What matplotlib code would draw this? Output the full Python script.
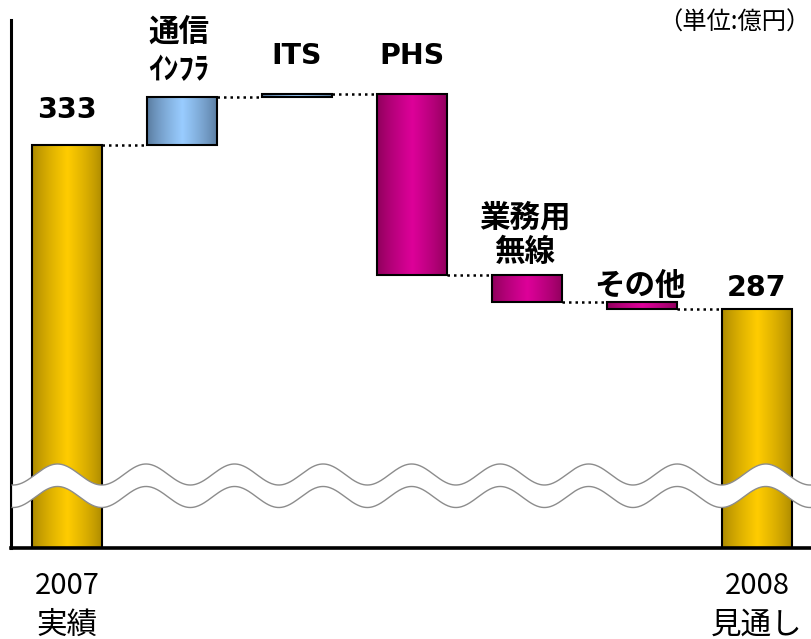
import numpy as np
import matplotlib
matplotlib.use("Agg")
import matplotlib.pyplot as plt
from matplotlib.colors import LinearSegmentedColormap

# ---- data (億円) ----
start_label = "2007\n実績"
end_label = "2008\n見通し"
start_value = 333
end_value = 287
step_labels = ["通信\nｲﾝﾌﾗ", "ITS", "PHS", "業務用\n無線", "その他"]
step_values = [13.5, 0.8, -50.8, -7.5, -2.0]
unit_label = "（単位:億円）"

# ---- styling ----
CJK = ["Noto Sans CJK JP", "DejaVu Sans"]
LATIN = ["DejaVu Sans"]
gold = LinearSegmentedColormap.from_list("gold", ["#a88600", "#ffcc00"])
blue = LinearSegmentedColormap.from_list("blue", ["#56779a", "#99ccff"])
magenta = LinearSegmentedColormap.from_list("magenta", ["#8a0058", "#dd0099"])

fig = plt.figure(figsize=(8.11, 6.39), dpi=100)
ax = fig.add_axes([10.5 / 811, 91 / 639, 800.5 / 811, 528 / 639])

n = len(step_values) + 2
x = np.arange(n)
width = 0.61

# waterfall geometry
bottoms, heights, cmaps = [0], [start_value], [gold]
level = start_value
levels = [level]
for v in step_values:
    bottoms.append(min(level, level + v))
    heights.append(abs(v))
    cmaps.append(blue if v > 0 else magenta)
    level += v
    levels.append(level)
bottoms.append(0)
heights.append(end_value)
cmaps.append(gold)
levels.append(end_value)

# horizontal shading profile across a bar: dark at the edges, bright in the middle
t = np.linspace(0, 1, 256)
profile = (1 - np.abs(2 * t - 1)) ** 0.75
shade = profile[np.newaxis, :]

bars = ax.bar(x, heights, width=width, bottom=bottoms, facecolor="none",
              edgecolor="black", linewidth=1.5, zorder=3)
for rect, cmap in zip(bars, cmaps):
    x0, y0 = rect.get_x(), rect.get_y()
    im = ax.imshow(shade, cmap=cmap, vmin=0, vmax=1, aspect="auto",
                   extent=[x0, x0 + rect.get_width(), y0, y0 + rect.get_height()],
                   interpolation="bilinear", zorder=2)
    # clip to the bar outline while keeping the axes clip box
    im.set_clip_path(rect.get_path(), rect.get_transform())

# dotted connectors between neighbouring bars
for i in range(n - 1):
    ax.plot([x[i] + width / 2, x[i + 1] - width / 2], [levels[i], levels[i]],
            color="black", lw=1.8, ls=(0, (1, 1.6)), dash_capstyle="butt", zorder=3)

ax.set_xlim(-0.4913, -0.4913 + 800.5 / 115)
ax.set_ylim(220.2, 368)
for side in ("top", "right"):
    ax.spines[side].set_visible(False)
ax.spines["left"].set_linewidth(2.2)
ax.spines["bottom"].set_linewidth(2.6)
ax.set_xticks([])
ax.set_yticks([])

# axis break: white band bounded by two grey waves
xw = np.linspace(0.002, 1.02, 900)
period, peak = 0.1106, 0.1693
amp = 0.0199
wave = amp * np.cos(2 * np.pi * (xw - peak) / period)
upper = 0.1392 + wave
lower = 0.0966 + wave
ax.fill_between(xw, lower, upper, facecolor="white", edgecolor="none",
                transform=ax.transAxes, clip_on=False, zorder=5)
ax.plot(xw, upper, color="#8c8c8c", lw=1.0, transform=ax.transAxes, clip_on=False, zorder=6)
ax.plot(xw, lower, color="#8c8c8c", lw=1.0, transform=ax.transAxes, clip_on=False, zorder=6)

# value labels for the totals
ax.annotate(f"{start_value}", (x[0], start_value), xytext=(0, 35), textcoords="offset pixels",
            ha="center", va="center", fontsize=20.5, fontweight="bold", family=LATIN)
ax.annotate(f"{end_value}", (x[-1], end_value), xytext=(0, 21), textcoords="offset pixels",
            ha="center", va="center", fontsize=20.5, fontweight="bold", family=LATIN)

# category labels above the step bars
label_offsets = [(-3, 46), (0, 38), (0, 38), (-2, 41), (-2, 16)]
for i, (lab, off) in enumerate(zip(step_labels, label_offsets), start=1):
    top = bottoms[i] + heights[i]
    if lab.isascii():
        ax.annotate(lab, (x[i], top), xytext=off, textcoords="offset pixels",
                    ha="center", va="center", fontsize=20.5, fontweight="bold",
                    family=LATIN)
    else:
        ax.annotate(lab, (x[i], top), xytext=off, textcoords="offset pixels",
                    ha="center", va="center", fontsize=22, fontweight="bold",
                    family=CJK, linespacing=1.1 if i > 1 else 1.25)

# period labels under the axis: year on the first line, status on the second
for xi, lab in ((x[0], start_label), (x[-1], end_label)):
    year, status = lab.split("\n")
    ax.annotate(year, (xi, 0), xycoords=("data", "axes fraction"),
                xytext=(0, -38), textcoords="offset pixels",
                ha="center", va="center", fontsize=21, family=CJK)
    ax.annotate(status, (xi, 0), xycoords=("data", "axes fraction"),
                xytext=(0, -77), textcoords="offset pixels",
                ha="center", va="center", fontsize=22, family=CJK)

fig.text(0.999, 1 - 23 / 639, unit_label, ha="right", va="center",
         fontsize=17.5, family=CJK)

fig.savefig("out.png", dpi=100)
